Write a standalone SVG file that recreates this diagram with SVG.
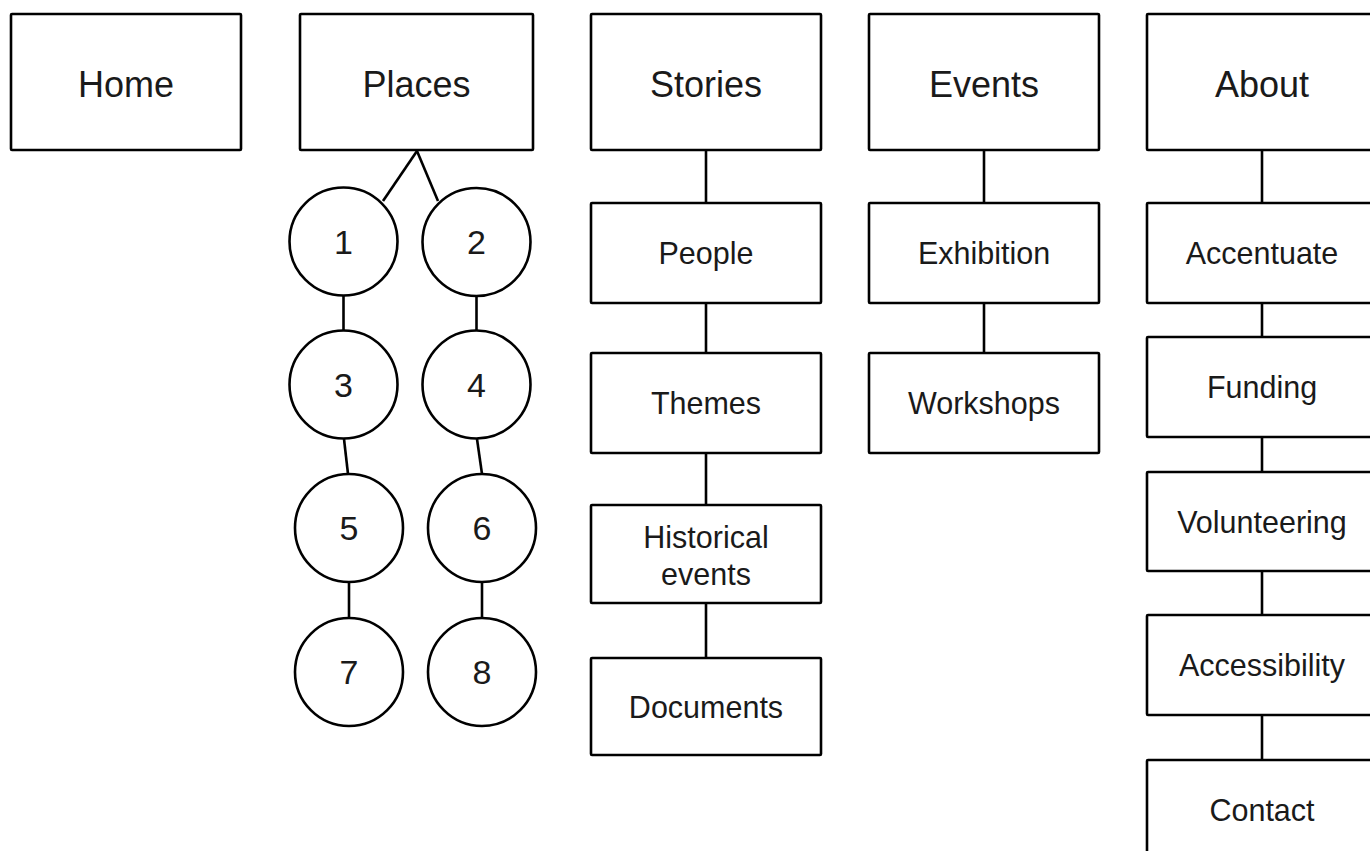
<svg xmlns="http://www.w3.org/2000/svg" width="1370" height="851" viewBox="0 0 1370 851">
<style>
.n rect,.n circle{fill:#fff;stroke:#000;stroke-width:2.6}
.c line{stroke:#000;stroke-width:2.6}
text{font-family:"Liberation Sans",Arial,sans-serif;fill:#1a1a1a;text-anchor:middle}
.t{font-size:36px}
.s{font-size:30.5px}
.d{font-size:34px}
</style>
<rect width="1370" height="851" fill="#fff"/>
<g class="c" id="connectors">
<line x1="417" y1="151" x2="383" y2="201"/>
<line x1="417" y1="151" x2="438" y2="201"/>
<line x1="343.5" y1="295" x2="343.5" y2="331"/>
<line x1="476.5" y1="296" x2="476.5" y2="331"/>
<line x1="344" y1="439" x2="348" y2="474"/>
<line x1="477" y1="439" x2="482" y2="474"/>
<line x1="349" y1="583" x2="349" y2="619"/>
<line x1="482" y1="583" x2="482" y2="619"/>
<line x1="706" y1="150" x2="706" y2="203"/>
<line x1="706" y1="303" x2="706" y2="353"/>
<line x1="706" y1="453" x2="706" y2="505"/>
<line x1="706" y1="603" x2="706" y2="658"/>
<line x1="984" y1="150" x2="984" y2="203"/>
<line x1="984" y1="303" x2="984" y2="353"/>
<line x1="1262" y1="150" x2="1262" y2="203"/>
<line x1="1262" y1="303" x2="1262" y2="337"/>
<line x1="1262" y1="437" x2="1262" y2="472"/>
<line x1="1262" y1="571" x2="1262" y2="615"/>
<line x1="1262" y1="715" x2="1262" y2="760"/>
</g>
<g class="n" id="home"><rect x="11" y="14" width="230" height="136" rx="1"/><text class="t" x="126" y="97">Home</text></g>
<g class="n" id="places"><rect x="300" y="14" width="233" height="136" rx="1"/><text class="t" x="416.5" y="97">Places</text></g>
<g class="n" id="stories"><rect x="591" y="14" width="230" height="136" rx="1"/><text class="t" x="706" y="97">Stories</text></g>
<g class="n" id="events"><rect x="869" y="14" width="230" height="136" rx="1"/><text class="t" x="984" y="97">Events</text></g>
<g class="n" id="about"><rect x="1147" y="14" width="230" height="136" rx="1"/><text class="t" x="1262" y="97">About</text></g>

<g class="n" id="c1"><circle cx="343.5" cy="241.5" r="54"/><text class="d" x="343.5" y="254">1</text></g>
<g class="n" id="c2"><circle cx="476.5" cy="242" r="54"/><text class="d" x="476.5" y="254">2</text></g>
<g class="n" id="c3"><circle cx="343.5" cy="384.5" r="54"/><text class="d" x="343.5" y="397">3</text></g>
<g class="n" id="c4"><circle cx="476.5" cy="384.5" r="54"/><text class="d" x="476.5" y="397">4</text></g>
<g class="n" id="c5"><circle cx="349" cy="528" r="54"/><text class="d" x="349" y="540">5</text></g>
<g class="n" id="c6"><circle cx="482" cy="528" r="54"/><text class="d" x="482" y="540">6</text></g>
<g class="n" id="c7"><circle cx="349" cy="672" r="54"/><text class="d" x="349" y="684">7</text></g>
<g class="n" id="c8"><circle cx="482" cy="672" r="54"/><text class="d" x="482" y="684">8</text></g>

<g class="n" id="people"><rect x="591" y="203" width="230" height="100" rx="1"/><text class="s" x="706" y="264">People</text></g>
<g class="n" id="themes"><rect x="591" y="353" width="230" height="100" rx="1"/><text class="s" x="706" y="414">Themes</text></g>
<g class="n" id="historical"><rect x="591" y="505" width="230" height="98" rx="1"/><text class="s" x="706" y="548">Historical</text><text class="s" x="706" y="585">events</text></g>
<g class="n" id="documents"><rect x="591" y="658" width="230" height="97" rx="1"/><text class="s" x="706" y="718">Documents</text></g>

<g class="n" id="exhibition"><rect x="869" y="203" width="230" height="100" rx="1"/><text class="s" x="984" y="264">Exhibition</text></g>
<g class="n" id="workshops"><rect x="869" y="353" width="230" height="100" rx="1"/><text class="s" x="984" y="414">Workshops</text></g>

<g class="n" id="accentuate"><rect x="1147" y="203" width="230" height="100" rx="1"/><text class="s" x="1262" y="264">Accentuate</text></g>
<g class="n" id="funding"><rect x="1147" y="337" width="230" height="100" rx="1"/><text class="s" x="1262" y="398">Funding</text></g>
<g class="n" id="volunteering"><rect x="1147" y="472" width="230" height="99" rx="1"/><text class="s" x="1262" y="533">Volunteering</text></g>
<g class="n" id="accessibility"><rect x="1147" y="615" width="230" height="100" rx="1"/><text class="s" x="1262" y="676">Accessibility</text></g>
<g class="n" id="contact"><rect x="1147" y="760" width="230" height="110" rx="1"/><text class="s" x="1262" y="821">Contact</text></g>
</svg>
